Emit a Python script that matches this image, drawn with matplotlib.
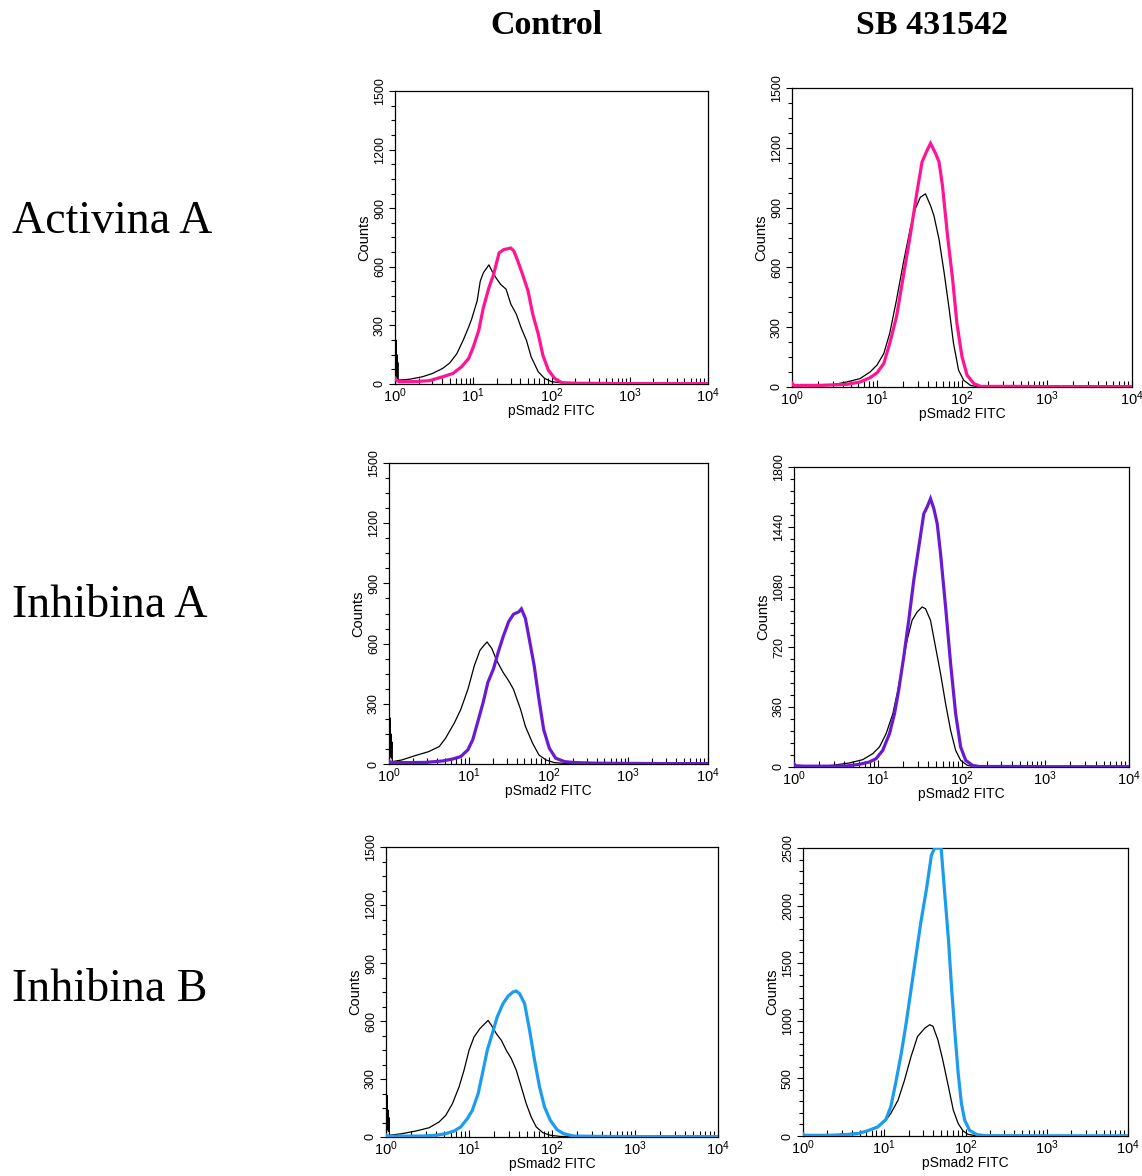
import numpy as np
import matplotlib
matplotlib.use("Agg")
import matplotlib.pyplot as plt
from matplotlib.ticker import MultipleLocator, LogLocator, NullFormatter

plt.rcParams["font.family"] = ["Liberation Sans", "DejaVu Sans"]
plt.rcParams["mathtext.fontset"] = "custom"
plt.rcParams["mathtext.rm"] = "Liberation Sans"
plt.rcParams["mathtext.it"] = "Liberation Sans:italic"

# Row / column headers
row_labels = ["Activina A", "Inhibina A", "Inhibina B"]
col_labels = ["Control", "SB 431542"]

# Histogram traces: x in decades of pSmad2 FITC (log10), y in counts
# Activina A / Control
actA_ctrl_iso_x = [0.0, 0.006, 0.012, 0.018, 0.024, 0.030, 0.036, 0.042, 0.18, 0.35, 0.48, 0.61, 0.70, 0.79,
                   0.87, 0.94, 0.98, 1.05, 1.09, 1.13, 1.20, 1.24, 1.29, 1.35, 1.42, 1.48, 1.55, 1.61, 1.68,
                   1.74, 1.83, 1.91, 2.00, 2.15, 2.40, 3.00, 4.00]
actA_ctrl_iso_y = [235, 30, 225, 40, 150, 30, 110, 20, 24, 37, 54, 80, 108, 155, 223, 290, 333, 426, 527, 570,
                   610, 578, 544, 510, 485, 409, 358, 290, 223, 139, 63, 29, 12, 5, 2, 1, 1]
actA_ctrl_stn_x = [0.0, 0.01, 0.05, 0.23, 0.44, 0.61, 0.74, 0.85, 0.94, 1.00, 1.07, 1.13, 1.20, 1.26, 1.33,
                   1.39, 1.48, 1.52, 1.57, 1.63, 1.70, 1.76, 1.83, 1.89, 1.96, 2.04, 2.13, 2.30, 2.60, 3.00,
                   3.50, 4.00]
actA_ctrl_stn_y = [30, 20, 12, 12, 17, 37, 54, 88, 130, 189, 274, 392, 493, 561, 671, 688, 696, 680, 629, 561,
                   477, 358, 257, 147, 71, 29, 7, 4, 3, 2, 2, 2]
# Activina A / SB 431542
actA_sb_iso_x = [0.0, 0.2, 0.44, 0.64, 0.80, 0.92, 1.00, 1.08, 1.15, 1.23, 1.31, 1.39, 1.45, 1.51, 1.57, 1.63,
                 1.67, 1.73, 1.79, 1.85, 1.90, 1.96, 2.02, 2.10, 2.18, 2.50, 4.00]
actA_sb_iso_y = [10, 3, 8, 25, 42, 76, 110, 168, 270, 438, 623, 792, 893, 952, 969, 910, 859, 741, 573, 388,
                 219, 84, 34, 8, 2, 1, 1]
actA_sb_stn_x = [0.0, 0.02, 0.3, 0.64, 0.80, 0.92, 1.00, 1.08, 1.15, 1.23, 1.31, 1.39, 1.47, 1.53, 1.59, 1.63,
                 1.69, 1.73, 1.77, 1.83, 1.89, 1.94, 2.00, 2.06, 2.14, 2.22, 2.6, 3.0, 3.5, 4.0]
actA_sb_stn_y = [20, 8, 8, 13, 25, 47, 71, 118, 219, 354, 556, 758, 977, 1129, 1188, 1222, 1171, 1129, 1011,
                 758, 539, 320, 152, 59, 17, 3, 3, 2, 2, 2]
# Inhibina A / Control
inhA_ctrl_iso_x = [0.0, 0.006, 0.012, 0.018, 0.024, 0.030, 0.036, 0.042, 0.16, 0.33, 0.50, 0.63, 0.71, 0.82,
                   0.90, 0.99, 1.07, 1.14, 1.19, 1.23, 1.29, 1.35, 1.43, 1.50, 1.56, 1.65, 1.71, 1.80, 1.88,
                   1.97, 2.07, 2.20, 2.5, 4.0]
inhA_ctrl_iso_y = [240, 30, 230, 40, 150, 30, 110, 12, 20, 42, 62, 87, 129, 205, 272, 373, 490, 566, 591, 608,
                   575, 516, 457, 415, 373, 272, 188, 104, 45, 20, 7, 3, 1, 1]
inhA_ctrl_stn_x = [0.0, 0.02, 0.24, 0.46, 0.67, 0.80, 0.90, 0.99, 1.05, 1.11, 1.18, 1.24, 1.31, 1.37, 1.43,
                   1.50, 1.56, 1.63, 1.66, 1.71, 1.75, 1.82, 1.88, 1.94, 2.01, 2.09, 2.20, 2.33, 2.6, 3.0,
                   3.5, 4.0]
inhA_ctrl_stn_y = [15, 7, 7, 8, 15, 25, 37, 71, 121, 205, 306, 407, 474, 558, 633, 709, 746, 759, 773, 726,
                   642, 491, 323, 171, 79, 29, 12, 7, 4, 3, 2, 2]
# Inhibina A / SB 431542
inhA_sb_iso_x = [0.0, 0.3, 0.46, 0.66, 0.82, 0.94, 1.02, 1.10, 1.18, 1.24, 1.29, 1.35, 1.41, 1.47, 1.53, 1.57,
                 1.63, 1.69, 1.75, 1.81, 1.87, 1.93, 1.99, 2.07, 2.17, 2.5, 4.0]
inhA_sb_iso_y = [12, 3, 10, 24, 44, 80, 120, 200, 320, 460, 600, 760, 880, 930, 960, 950, 880, 720, 560, 380,
                 220, 100, 40, 10, 2, 1, 1]
inhA_sb_stn_x = [0.0, 0.02, 0.4, 0.62, 0.78, 0.90, 0.98, 1.06, 1.14, 1.20, 1.25, 1.31, 1.37, 1.43, 1.49, 1.55,
                 1.59, 1.63, 1.67, 1.71, 1.75, 1.81, 1.87, 1.93, 1.99, 2.05, 2.13, 2.21, 2.6, 3.0, 3.5, 4.0]
inhA_sb_stn_y = [20, 5, 5, 6, 16, 30, 50, 100, 200, 320, 460, 660, 880, 1120, 1320, 1520, 1560, 1610, 1550,
                 1460, 1280, 960, 620, 320, 120, 40, 10, 3, 3, 2, 2, 2]
# Inhibina B / Control
inhB_ctrl_iso_x = [0.0, 0.006, 0.012, 0.018, 0.024, 0.030, 0.036, 0.042, 0.19, 0.36, 0.52, 0.64, 0.72, 0.80,
                   0.88, 0.94, 1.00, 1.06, 1.13, 1.19, 1.23, 1.27, 1.33, 1.39, 1.45, 1.51, 1.57, 1.63, 1.69,
                   1.75, 1.81, 1.89, 1.98, 2.10, 2.4, 4.0]
inhB_ctrl_iso_y = [225, 30, 215, 40, 140, 30, 100, 9, 17, 31, 48, 78, 112, 172, 259, 345, 448, 517, 560, 586,
                   603, 578, 534, 500, 448, 405, 345, 259, 172, 103, 52, 22, 9, 3, 1, 1]
inhB_ctrl_stn_x = [0.0, 0.02, 0.44, 0.60, 0.72, 0.82, 0.90, 0.98, 1.04, 1.11, 1.17, 1.22, 1.28, 1.34, 1.41,
                   1.47, 1.53, 1.57, 1.61, 1.67, 1.73, 1.79, 1.85, 1.91, 1.98, 2.06, 2.14, 2.26, 2.6, 3.0,
                   3.5, 4.0]
inhB_ctrl_stn_y = [10, 4, 5, 9, 17, 31, 52, 95, 138, 224, 345, 448, 534, 621, 690, 728, 750, 755, 741, 690, 552,
                   397, 259, 155, 86, 38, 17, 5, 3, 2, 2, 2]
# Inhibina B / SB 431542
inhB_sb_iso_x = [0.0, 0.3, 0.46, 0.67, 0.79, 0.92, 1.02, 1.08, 1.17, 1.25, 1.33, 1.41, 1.50, 1.56, 1.60, 1.66,
                 1.72, 1.79, 1.85, 1.91, 1.97, 2.03, 2.12, 2.5, 4.0]
inhB_sb_iso_y = [5, 3, 15, 26, 44, 73, 137, 195, 311, 486, 690, 864, 937, 966, 952, 835, 661, 428, 224, 108,
                 44, 15, 3, 1, 1]
inhB_sb_stn_x = [0.0, 0.02, 0.3, 0.46, 0.67, 0.79, 0.92, 1.02, 1.08, 1.14, 1.21, 1.27, 1.33, 1.39, 1.45, 1.52,
                 1.58, 1.62, 1.70, 1.74, 1.79, 1.83, 1.87, 1.91, 1.95, 1.99, 2.05, 2.14, 2.24, 2.6, 3.0, 3.5,
                 4.0]
inhB_sb_stn_y = [20, 6, 6, 9, 20, 44, 79, 143, 253, 457, 719, 981, 1272, 1563, 1854, 2145, 2436, 2500, 2500,
                 2145, 1708, 1272, 893, 544, 282, 137, 49, 12, 3, 3, 2, 2, 2]

# Y axis scales per panel: (max, major step, minor step)
y_scales = [[(1500, 300, 75), (1500, 300, 75)],
            [(1500, 300, 75), (1800, 360, 72)],
            [(1500, 300, 75), (2500, 500, 100)]]

traces = [[((actA_ctrl_iso_x, actA_ctrl_iso_y), (actA_ctrl_stn_x, actA_ctrl_stn_y)),
           ((actA_sb_iso_x, actA_sb_iso_y), (actA_sb_stn_x, actA_sb_stn_y))],
          [((inhA_ctrl_iso_x, inhA_ctrl_iso_y), (inhA_ctrl_stn_x, inhA_ctrl_stn_y)),
           ((inhA_sb_iso_x, inhA_sb_iso_y), (inhA_sb_stn_x, inhA_sb_stn_y))],
          [((inhB_ctrl_iso_x, inhB_ctrl_iso_y), (inhB_ctrl_stn_x, inhB_ctrl_stn_y)),
           ((inhB_sb_iso_x, inhB_sb_iso_y), (inhB_sb_stn_x, inhB_sb_stn_y))]]

row_colors = ["#FF1493", "#6A1BD1", "#1B9CEF"]

W, H = 1142, 1176
fig = plt.figure(figsize=(W / 100, H / 100), dpi=100)
fig.patch.set_facecolor("white")

# Panel boxes in pixels: left, right, top, bottom
boxes = [[(395, 708, 91, 384), (792, 1132, 88, 387)],
         [(389, 708, 463, 764), (794, 1129, 467, 767)],
         [(386, 718, 847, 1137), (803, 1128, 848, 1136)]]

for r in range(3):
    for c in range(2):
        L, R, T, B = boxes[r][c]
        ax = fig.add_axes([L / W, 1 - B / H, (R - L) / W, (B - T) / H])
        (ix, iy), (sx, sy) = traces[r][c]
        ax.plot(10 ** np.asarray(ix), iy, color="black", lw=0.9, zorder=2)
        ax.plot(10 ** np.asarray(sx), sy, color=row_colors[r], lw=2.3, zorder=3,
                solid_joinstyle="miter")
        ymax, major, minor = y_scales[r][c]
        ax.set_xscale("log")
        ax.set_xlim(1, 1e4)
        ax.set_ylim(0, ymax)
        ax.xaxis.set_major_locator(LogLocator(base=10, numticks=10))
        ax.xaxis.set_minor_locator(LogLocator(base=10, subs=np.arange(2, 10), numticks=20))
        ax.xaxis.set_minor_formatter(NullFormatter())
        ax.yaxis.set_major_locator(MultipleLocator(major))
        ax.yaxis.set_minor_locator(MultipleLocator(minor))
        ax.tick_params(axis="x", which="major", direction="in", length=5, width=0.8,
                       labelsize=10.5, pad=2)
        ax.tick_params(axis="x", which="minor", direction="in", length=4, width=0.8)
        ax.tick_params(axis="y", which="major", direction="out", length=4, width=0.8,
                       labelsize=9, pad=2.5, labelrotation=90)
        ax.tick_params(axis="y", which="minor", direction="out", length=3, width=0.8)
        for lab in ax.get_yticklabels():
            lab.set_verticalalignment("center")
        for sp in ax.spines.values():
            sp.set_linewidth(0.9)
        ax.set_xlabel("pSmad2 FITC", fontsize=10, labelpad=-1)
        ax.set_ylabel("Counts", fontsize=10.5, labelpad=2)

# Column headers
col_x = [547, 932]
for cx, lab in zip(col_x, col_labels):
    fig.text(cx / W, 1 - 25 / H, lab, family=["Liberation Serif", "DejaVu Serif"],
             weight="bold", fontsize=24.5, ha="center", va="center")

# Row headers
row_y = [222, 606, 990]
for ry, lab in zip(row_y, row_labels):
    fig.text(12 / W, 1 - ry / H, lab, family=["Liberation Serif", "DejaVu Serif"],
             fontsize=33, ha="left", va="center")

fig.savefig("out.png", dpi=100, facecolor="white")
